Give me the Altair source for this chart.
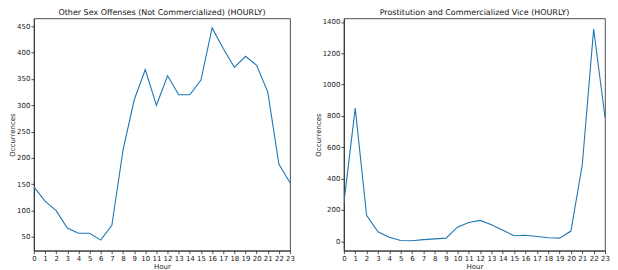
import altair as alt
import pandas as pd

hours = list(range(24))
other_sex = [145, 118, 100, 67, 57, 57, 44, 72, 215, 310, 368, 300, 356, 320, 320, 348, 447, 408, 372, 393, 376, 325, 188, 153]
prostitution = [245, 850, 165, 60, 25, 5, 3, 10, 15, 20, 90, 120, 133, 105, 70, 35, 38, 30, 22, 20, 65, 490, 1355, 790]

df1 = pd.DataFrame({"Hour": hours, "Occurrences": other_sex})
df2 = pd.DataFrame({"Hour": hours, "Occurrences": prostitution})

FONT = "DejaVu Sans"
BLUE = "#1f77b4"

def panel(df, title, ydom, yticks, w):
    x = alt.X("Hour:Q", scale=alt.Scale(domain=[0, 23], nice=False, zero=False),
              axis=alt.Axis(values=hours, title="Hour", grid=False, labelFlush=False, format="d"))
    y = alt.Y("Occurrences:Q", scale=alt.Scale(domain=ydom, nice=False, zero=False),
              axis=alt.Axis(values=yticks, title="Occurrences", grid=False, format="d"))
    return alt.Chart(df).mark_line(color=BLUE, strokeWidth=1.1, clip=True).encode(x=x, y=y).properties(
        width=w, height=233,
        title=alt.TitleParams(title, offset=1),
    )

left = panel(df1, "Other Sex Offenses (Not Commercialized) (HOURLY)", [24, 465], list(range(50, 451, 50)), 257)
right = panel(df2, "Prostitution and Commercialized Vice (HOURLY)", [-60, 1423], list(range(0, 1401, 200)), 262)

chart = alt.hconcat(left, right, spacing=18).properties(
    padding={"left": 0, "top": 0, "right": 0, "bottom": 0}
).configure_title(
    font=FONT, fontSize=8, fontWeight="normal", color="#111"
).configure_axis(
    labelFont=FONT, titleFont=FONT, labelFontSize=7, titleFontSize=7,
    titleFontWeight="normal", labelColor="#222", titleColor="#222",
    domainColor="#222", tickColor="#222", tickSize=3, labelPadding=1, titlePadding=1,
    domainWidth=0.8, tickWidth=0.8,
).configure_view(stroke="#222", strokeWidth=0.8)

chart.save("out.html", embed_options={"renderer": "svg", "actions": False})
